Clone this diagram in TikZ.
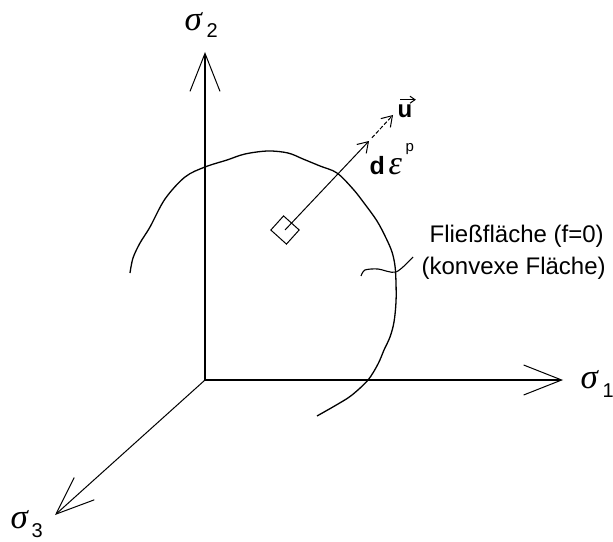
\documentclass[tikz,border=0pt]{standalone}
\usepackage{fontspec}
\setmainfont{Liberation Sans}
\newfontfamily\serifgr{Liberation Serif}
\usetikzlibrary{arrows.meta,calc}
\begin{document}
\begin{tikzpicture}[x=1bp,y=-1bp, line width=1.2bp,
  axisarrow/.style={-{Straight Barb[length=38bp,width=30bp,line width=1bp]}},
  smallarrow/.style={-{Straight Barb[length=10bp,width=13bp,line width=1bp]}},
  lbl/.style={inner sep=0pt, anchor=base west},
  sigfont/.style={font=\serifgr\itshape\fontsize{35bp}{35bp}\selectfont, text height=16bp, text depth=0bp},
  subfont/.style={font=\fontsize{20bp}{20bp}\selectfont},
  txtfont/.style={font=\fontsize{24bp}{28bp}\selectfont}]
\useasboundingbox (0,0) rectangle (613,542);
% axes
\coordinate (O) at (205,380);
\coordinate (t2) at (205,52);
\coordinate (t1) at (563,380);
\coordinate (t3) at (55,515);
\draw[axisarrow] (O) -- (t2);
\draw[axisarrow] (O) -- (t1);
\draw[axisarrow, line width=1bp] (O) -- (t3);
% axis labels
\node[lbl, sigfont] (s2) at (184,31) {σ};
\node[lbl, subfont] (s2i) at (206,38) {2};
\node[lbl, sigfont] (s1) at (580,388) {σ};
\node[lbl, subfont] (s1i) at (602,397) {1};
\node[lbl, sigfont] (s3) at (10,528) {σ};
\node[lbl, subfont] (s3i) at (31,537) {3};
% yield surface
\draw[line width=1.3bp] plot[smooth, tension=0.55] coordinates {
 (130,273) (133,258) (140,243) (150,227) (165,199) (185,177) (205,167)
 (227,160) (245,154) (268,151) (288,153) (303,159) (320,166) (337,173)
 (353,189) (364,203) (377,221) (386,238) (392,252) (395,266) (396,283)
 (396,302) (394,322) (390,337) (384,350) (378,364) (368,380) (352,395)
 (338,404) (317,416)};
% leader squiggle
\draw[line width=1.1bp] plot[smooth, tension=0.5] coordinates {
 (361,276) (365,270) (378,269) (396,272) (413,257)};
% small square
\node[draw, line width=1bp, minimum width=21bp, minimum height=19bp, inner sep=0pt, rotate=-42] (sq) at (285,230) {};
% normal vectors
\coordinate (de) at (369,141);
\coordinate (ut) at (393,115);
\coordinate (us) at ($(de)!0.12!(ut)$);
\draw[smallarrow, line width=1bp] (sq.center) -- (de);
\draw[smallarrow, line width=1bp, dash pattern=on 4bp off 2bp] (us) -- (ut);
% labels for vectors
\node[lbl, font=\bfseries\fontsize{25bp}{25bp}\selectfont] (d) at (369,175) {d};
\node[lbl, font=\serifgr\itshape\fontsize{34bp}{34bp}\selectfont] (eps) at (388,175) {ε};
\node[lbl, font=\fontsize{15bp}{15bp}\selectfont] (p) at (405,152) {p};
\node[lbl, font=\bfseries\fontsize{24bp}{24bp}\selectfont] (u) at (397,118) {u};
\coordinate (ua) at ($(u.north west)+(3,-5)$);
\coordinate (ub) at ($(u.north east)+(3,-5)$);
\draw[-{Straight Barb[length=5bp,width=7bp,line width=1bp]}, line width=1.1bp] (ua) -- (ub);
% text
\node[lbl, txtfont] (t1a) at (429,242.7) {Fließfläche (f=0)};
\node[lbl, txtfont] (t1b) at (421,274.3) {(konvexe Fläche)};
\end{tikzpicture}
\end{document}
